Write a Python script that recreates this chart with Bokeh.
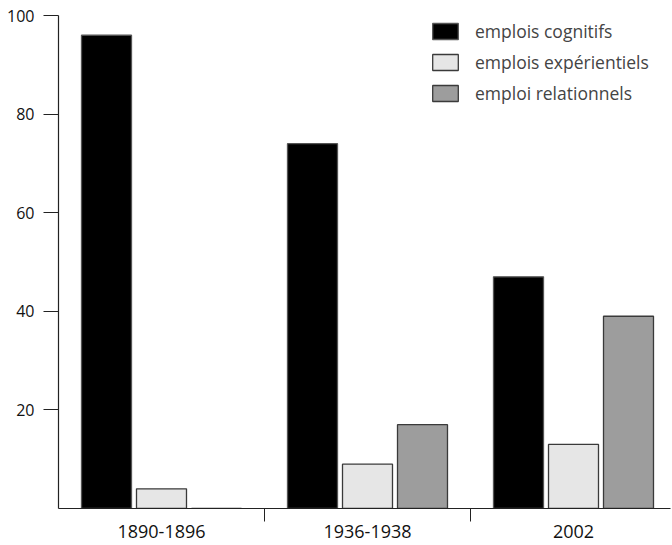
from bokeh.plotting import figure
from bokeh.models import Range1d, FixedTicker, Legend, LegendItem, ColumnDataSource
from bokeh.embed import file_html
from bokeh.resources import INLINE

categories = ["1890-1896", "1936-1938", "2002"]
cognitifs = [96, 74, 47]
experientiels = [4, 9, 13]
relationnels = [0, 17, 39]
series_names = ["emplois cognitifs", "emplois expérientiels", "emploi relationnels"]
y_ticks = [20, 40, 60, 80, 100]

FONT = "Open Sans"
group_px = 206.0
offset = 55.0 / group_px
bar_w = 50.0 / group_px
centers = [i + 0.5 for i in range(len(categories))]

p = figure(width=672, height=545, output_backend="svg", toolbar_location=None,
           x_range=Range1d(0, 612.0 / group_px), y_range=Range1d(0, 100),
           min_border_left=58, min_border_right=2, min_border_top=15, min_border_bottom=37)
p.outline_line_color = None
p.xgrid.visible = False
p.ygrid.visible = False

fills = ["#000000", "#e6e6e6", "#9d9d9d"]
lines = ["#555555", "#3a3a3a", "#3a3a3a"]
renderers = []
for k, vals in enumerate([cognitifs, experientiels, relationnels]):
    xs = [c + (k - 1) * offset for c in centers]
    src = ColumnDataSource(dict(x=xs, top=vals))
    r = p.vbar(x="x", top="top", bottom=0, width=bar_w, source=src,
               fill_color=fills[k], line_color=lines[k], line_width=1.3)
    renderers.append(r)

# x axis
xa = p.xaxis[0]
xa.ticker = FixedTicker(ticks=centers, minor_ticks=[1, 2])
xa.major_label_overrides = {c: lab for c, lab in zip(centers, categories)}
xa.major_tick_out = 0
xa.major_tick_in = 0
xa.minor_tick_out = 13
xa.minor_tick_in = 0
xa.minor_tick_line_color = "#222222"
xa.axis_line_color = "#222222"
xa.axis_line_width = 1.2
xa.major_label_standoff = 3
xa.major_label_text_font = FONT
xa.major_label_text_font_size = "18px"
xa.major_label_text_color = "#111111"

# y axis
ya = p.yaxis[0]
ya.ticker = FixedTicker(ticks=y_ticks)
ya.major_tick_out = 15
ya.major_tick_in = 0
ya.minor_tick_out = 0
ya.minor_tick_in = 0
ya.major_tick_line_color = "#222222"
ya.axis_line_color = "#222222"
ya.axis_line_width = 1.2
ya.major_label_standoff = 9
ya.major_label_text_font = FONT
ya.major_label_text_font_size = "16px"
ya.major_label_text_color = "#111111"

legend = Legend(items=[LegendItem(label=n, renderers=[r]) for n, r in zip(series_names, renderers)],
                location=(371, 403), padding=0, margin=0, spacing=7,
                glyph_width=32, glyph_height=20, label_standoff=14,
                label_text_font=FONT, label_text_font_size="17.5px",
                border_line_color=None, background_fill_alpha=0)
p.add_layout(legend)

open("out.html", "w").write(file_html(p, INLINE))
